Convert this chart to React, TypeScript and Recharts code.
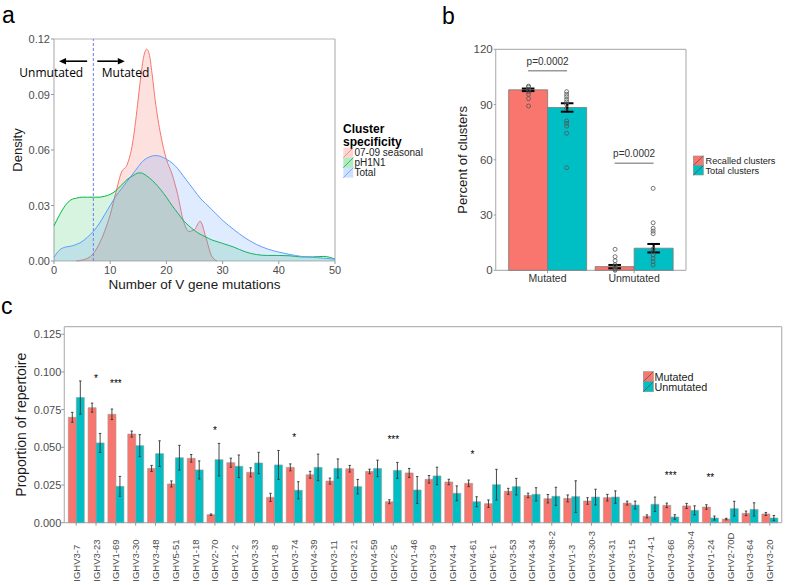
import React from "react";
import {
  ComposedChart,
  Area,
  Bar,
  Scatter,
  XAxis,
  YAxis,
  CartesianGrid,
  ReferenceLine,
  ReferenceDot,
  ErrorBar,
} from "recharts";

const RED = "#F8766D";
const TEAL = "#00BFC4";
const GREEN = "#00BA38";
const BLUE = "#619CFF";
const FRAME = "#b5b5b5";
const TICK_TEXT = "#4d4d4d";
const SANS = '"Liberation Sans", Arial, sans-serif';

// ---- panel a: density of V gene mutation counts ----
const mutationCounts = [
  0, 1, 2, 3, 4, 5, 6, 7, 8, 9, 10, 11, 12, 13, 14, 14.5, 15, 15.5, 16, 16.5, 17, 17.5, 18,
  19, 20, 21, 22, 23, 24, 25, 26, 27, 28, 29, 30, 32, 34, 36, 38, 40, 42, 44, 46, 48, 50,
];
const seasonalDensity = [
  null, null, null, null, 0, 0.0005, 0.0015, 0.004, 0.009, 0.016, 0.025, 0.037, 0.048, 0.052,
  0.064, 0.075, 0.088, 0.101, 0.111, 0.1145, 0.111, 0.1, 0.087, 0.068, 0.055, 0.047, 0.036,
  0.022, 0.016, 0.017, 0.0215, 0.013, 0.003, 0, null, null, null, null, null, null, null, null,
  null, null, null,
];
const ph1n1Density = [
  0.019, 0.025, 0.03, 0.033, 0.034, 0.0345, 0.0345, 0.0345, 0.0345, 0.035, 0.036, 0.038, 0.041,
  0.044, 0.046, 0.047, 0.0476, 0.0476, 0.047, 0.046, 0.0448, 0.0435, 0.042, 0.0385, 0.0345, 0.03,
  0.026, 0.022, 0.019, 0.0165, 0.0145, 0.013, 0.0115, 0.0105, 0.0095, 0.0075, 0.005, 0.0035,
  0.003, 0.003, 0.0028, 0.0022, 0.0022, 0.0025, 0.001,
];
const totalDensity = [
  0.002, 0.006, 0.0075, 0.008, 0.009, 0.0105, 0.013, 0.016, 0.02, 0.025, 0.03, 0.035, 0.039,
  0.043, 0.047, 0.049, 0.051, 0.053, 0.0545, 0.0555, 0.0563, 0.0568, 0.057, 0.0565, 0.055, 0.053,
  0.05, 0.046, 0.042, 0.038, 0.034, 0.031, 0.028, 0.025, 0.022, 0.017, 0.0125, 0.009, 0.0065,
  0.0048, 0.0035, 0.0025, 0.002, 0.0015, 0.001,
];
const mutationCutoff = 7;
const specificityLabels = ["07-09 seasonal", "pH1N1", "Total"];

// ---- panel b: percent of clusters ----
const groups = ["Mutated", "Unmutated"];
const recalledPct = [98, 2];
const recalledSem = [0.7, 0.9];
const totalPct = [88.4, 12];
const totalSem = [2.3, 2.3];
const recalledMutatedDonors = [100, 99.4, 98.3, 97, 95.6, 93.2, 89.2];
const totalMutatedDonors = [97, 95.6, 94.3, 92.8, 91.5, 90.1, 88, 81.1, 79.8, 78.3, 74.4, 55.7];
const recalledUnmutatedDonors = [11.4, 7.4, 5.2, 3, 2, 1, 0.5, 0];
const totalUnmutatedDonors = [44.5, 25.8, 22.8, 21.3, 19.9, 11.5, 10.1, 8.3, 6.5, 4.7, 2.9];
const pLabels = ["p=0.0002", "p=0.0002"];
const pBarHeights = [108.4, 58.1];

// ---- panel c: IGHV usage ----
const genes = [
  "IGHV3-7", "IGHV3-23", "IGHV1-69", "IGHV3-30", "IGHV3-48", "IGHV5-51", "IGHV1-18", "IGHV2-70",
  "IGHV1-2", "IGHV3-33", "IGHV1-8", "IGHV3-74", "IGHV4-39", "IGHV3-11", "IGHV3-21", "IGHV4-59",
  "IGHV2-5", "IGHV1-46", "IGHV3-9", "IGHV4-4", "IGHV4-61", "IGHV6-1", "IGHV3-53", "IGHV4-34",
  "IGHV4-38-2", "IGHV1-3", "IGHV3-30-3", "IGHV4-31", "IGHV3-15", "IGHV7-4-1", "IGHV3-66",
  "IGHV4-30-4", "IGHV1-24", "IGHV2-70D", "IGHV3-64", "IGHV3-20",
];
const mutatedProp = [
  0.0699, 0.0763, 0.0719, 0.0588, 0.036, 0.0257, 0.0427, 0.0053, 0.0398, 0.0334, 0.0168, 0.0367,
  0.0318, 0.0276, 0.0358, 0.034, 0.0139, 0.033, 0.0288, 0.027, 0.0261, 0.0126, 0.0208, 0.0181,
  0.0159, 0.0161, 0.0144, 0.0166, 0.013, 0.0042, 0.0115, 0.0111, 0.0104, 0.0024, 0.0062, 0.0058,
];
const mutatedSem = [
  0.0033, 0.003, 0.0035, 0.002, 0.002, 0.002, 0.0025, 0.0005, 0.003, 0.003, 0.0027, 0.0023,
  0.0023, 0.002, 0.0022, 0.0015, 0.0013, 0.003, 0.0025, 0.0018, 0.0022, 0.0025, 0.002, 0.0015,
  0.0028, 0.0023, 0.0022, 0.0022, 0.0013, 0.001, 0.0015, 0.0017, 0.0015, 0.0005, 0.0015, 0.001,
];
const unmutatedProp = [
  0.083, 0.0529, 0.0241, 0.0511, 0.0458, 0.0431, 0.035, 0.0418, 0.0374, 0.0396, 0.0383, 0.0215,
  0.0367, 0.036, 0.0239, 0.036, 0.0347, 0.0217, 0.031, 0.0195, 0.0139, 0.0252, 0.0239, 0.0188,
  0.0175, 0.0173, 0.017, 0.017, 0.0117, 0.0122, 0.0038, 0.0082, 0.0031, 0.0093, 0.0088, 0.0031,
];
const unmutatedSem = [
  0.011, 0.0063, 0.0066, 0.0073, 0.0085, 0.0082, 0.006, 0.0108, 0.0075, 0.0071, 0.0096, 0.0057,
  0.0088, 0.0063, 0.0048, 0.0055, 0.0053, 0.0089, 0.0058, 0.0049, 0.0033, 0.0102, 0.0055, 0.0044,
  0.006, 0.0105, 0.0052, 0.0041, 0.0026, 0.0048, 0.0015, 0.003, 0.0013, 0.0049, 0.0044, 0.0017,
];
const sigGenes = ["IGHV3-23", "IGHV1-69", "IGHV2-70", "IGHV3-74", "IGHV2-5", "IGHV4-61", "IGHV3-66", "IGHV1-24"];
const sigMarks = ["*", "***", "*", "*", "***", "*", "***", "**"];
const sigHeights = [0.097, 0.0936, 0.063, 0.058, 0.0564, 0.047, 0.033, 0.0316];

// chart rows
const densityRows = mutationCounts.map((m, i) => ({
  m,
  seasonal: seasonalDensity[i],
  ph1n1: ph1n1Density[i],
  total: totalDensity[i],
}));
const clusterRows = groups.map((group, i) => ({
  group,
  recalled: recalledPct[i],
  recalledErr: recalledSem[i],
  total: totalPct[i],
  totalErr: totalSem[i],
}));
const DODGE = 0.22;
const toPts = (vals: number[], pos: number) => vals.map((pct) => ({ pos, pct }));
const recalledPts = [
  ...toPts(recalledMutatedDonors, 1 - DODGE),
  ...toPts(recalledUnmutatedDonors, 2 - DODGE),
];
const totalPts = [...toPts(totalMutatedDonors, 1 + DODGE), ...toPts(totalUnmutatedDonors, 2 + DODGE)];
const geneRows = genes.map((gene, i) => ({
  gene,
  mutated: mutatedProp[i],
  mutatedErr: mutatedSem[i],
  unmutated: unmutatedProp[i],
  unmutatedErr: unmutatedSem[i],
}));

// grey panel border drawn as grid lines on the plot edges
const frameH = ({ offset }: any) => [offset.top, offset.top + offset.height];
const frameV = ({ offset }: any) => [offset.left, offset.left + offset.width];

// tick renderers with fixed font so sizes are predictable
const yTick = (fmt: (v: any) => string, size: number) => (p: any) => (
  <text x={p.x} y={p.y} textAnchor="end" dominantBaseline="central" fontFamily={SANS} fontSize={size} fill={TICK_TEXT}>
    {fmt(p.payload.value)}
  </text>
);
const xTick = (size: number, color: string) => (p: any) => (
  <text x={p.x} y={p.y} dy="0.74em" textAnchor="middle" fontFamily={SANS} fontSize={size} fill={color}>
    {p.payload.value}
  </text>
);

const GeneTick = (props: any) => {
  const { x, y, payload } = props;
  const ty = y + 56;
  return (
    <text
      x={x}
      y={ty}
      transform={`rotate(-90, ${x}, ${ty})`}
      textAnchor="start"
      dominantBaseline="central"
      fontFamily={SANS}
      fontSize={9.5}
      fill={TICK_TEXT}
    >
      {payload.value}
    </text>
  );
};

const arrowShape = (p: any) => {
  const { x1, y1, x2, y2 } = p;
  const dir = Math.sign(x2 - x1);
  const head = 7;
  return (
    <g>
      <line x1={x1} y1={y1} x2={x2 - dir * head} y2={y2} stroke="#000" strokeWidth={1.6} />
      <polygon
        points={`${x2},${y2} ${x2 - dir * head},${y2 - 3.2} ${x2 - dir * head},${y2 + 3.2}`}
        fill="#000"
      />
    </g>
  );
};

const noteText = (text: string, anchor: "start" | "end") => (p: any) => (
  <text
    x={p.cx}
    y={p.cy}
    textAnchor={anchor}
    fontFamily='"Open Sans", "Noto Sans", sans-serif'
    fontSize={12}
    fill="#000"
  >
    {text}
  </text>
);

const KeyBox = ({ x, y, w, h, fill, line, fillOpacity = 1, border }: any) => (
  <g>
    <rect x={x} y={y} width={w} height={h} fill={fill} fillOpacity={fillOpacity} stroke={border || "none"} strokeWidth={0.6} />
    <line x1={x} y1={y + h} x2={x + w} y2={y} stroke={line} strokeWidth={0.8} />
  </g>
);

function DensityPanel() {
  return (
    <ComposedChart width={345} height={300} data={densityRows} margin={{ top: 39, right: 10, bottom: 6, left: 0 }}>
      <CartesianGrid stroke={FRAME} strokeWidth={1.2} horizontalCoordinatesGenerator={frameH} verticalCoordinatesGenerator={frameV} />
      <XAxis
        dataKey="m"
        type="number"
        domain={[0, 50]}
        ticks={[0, 10, 20, 30, 40, 50]}
        height={33}
        axisLine={false}
        tickSize={3}
        tickMargin={2}
        tickLine={{ stroke: "#999" }}
        tick={xTick(11, TICK_TEXT)}
      />
      <YAxis
        domain={[0, 0.12]}
        ticks={[0, 0.03, 0.06, 0.09, 0.12]}
        width={54}
        axisLine={false}
        tickSize={3}
        tickMargin={1}
        tickLine={{ stroke: "#999" }}
        tick={yTick((v: number) => v.toFixed(2), 11)}
      />
      <Area dataKey="seasonal" type="monotone" stroke={RED} fill={RED} fillOpacity={0.22} strokeWidth={1} dot={false} activeDot={false} isAnimationActive={false} />
      <Area dataKey="ph1n1" type="monotone" stroke={GREEN} fill={GREEN} fillOpacity={0.16} strokeWidth={1} dot={false} activeDot={false} isAnimationActive={false} />
      <Area dataKey="total" type="monotone" stroke={BLUE} fill={BLUE} fillOpacity={0.2} strokeWidth={1} dot={false} activeDot={false} isAnimationActive={false} />
      <ReferenceLine x={mutationCutoff} stroke="#7777ee" strokeDasharray="3 2" strokeWidth={1} />
      <ReferenceLine segment={[{ x: 5.9, y: 0.108 }, { x: 0.9, y: 0.108 }]} shape={arrowShape} />
      <ReferenceLine segment={[{ x: 7.7, y: 0.108 }, { x: 12.6, y: 0.108 }]} shape={arrowShape} />
      <ReferenceDot x={5.2} y={0.0996} r={0} shape={noteText("Unmutated", "end")} />
      <ReferenceDot x={8.5} y={0.0996} r={0} shape={noteText("Mutated", "start")} />
    </ComposedChart>
  );
}

function ClusterPanel() {
  const dot = (p: any) => <circle cx={p.cx} cy={p.cy} r={2} fill="none" stroke="#555" strokeWidth={0.8} />;
  return (
    <ComposedChart width={300} height={300} data={clusterRows} margin={{ top: 49.3, right: 14, bottom: 0, left: 0 }} barGap={0} barCategoryGap={4.3}>
      <CartesianGrid stroke={FRAME} strokeWidth={1.2} horizontalCoordinatesGenerator={frameH} verticalCoordinatesGenerator={frameV} />
      <XAxis
        dataKey="group"
        height={29.7}
        padding={{ left: 8.65, right: 8.65 }}
        axisLine={false}
        tickSize={3}
        tickMargin={1}
        tickLine={{ stroke: "#999" }}
        tick={xTick(10.5, "#333")}
      />
      <XAxis xAxisId="pts" type="number" dataKey="pos" domain={[0.4, 2.6]} hide allowDataOverflow />
      <YAxis
        domain={[0, 120]}
        ticks={[0, 30, 60, 90, 120]}
        width={95.7}
        axisLine={false}
        tickSize={2}
        tickMargin={1}
        tickLine={{ stroke: "#999" }}
        tick={yTick((v: number) => String(v), 11.5)}
      />
      <Bar dataKey="recalled" fill={RED} stroke="#7a7a7a" strokeWidth={0.8} isAnimationActive={false}>
        <ErrorBar dataKey="recalledErr" width={6.3} stroke="#000" strokeWidth={2} isAnimationActive={false} />
      </Bar>
      <Bar dataKey="total" fill={TEAL} stroke="#7a7a7a" strokeWidth={0.8} isAnimationActive={false}>
        <ErrorBar dataKey="totalErr" width={6.3} stroke="#000" strokeWidth={2} isAnimationActive={false} />
      </Bar>
      <Scatter xAxisId="pts" data={recalledPts} dataKey="pct" shape={dot} isAnimationActive={false} />
      <Scatter xAxisId="pts" data={totalPts} dataKey="pct" shape={dot} isAnimationActive={false} />
      {groups.map((g, i) => (
        <ReferenceLine
          key={`pl-${g}`}
          xAxisId="pts"
          segment={[{ x: i + 1 - 0.225, y: pBarHeights[i] }, { x: i + 1 + 0.225, y: pBarHeights[i] }]}
          stroke="#999"
          strokeWidth={1.5}
        />
      ))}
      {groups.map((g, i) => (
        <ReferenceDot
          key={`pt-${g}`}
          xAxisId="pts"
          x={i + 1}
          y={pBarHeights[i]}
          r={0}
          shape={(p: any) => (
            <text x={p.cx} y={p.cy - 6} textAnchor="middle" fontFamily={SANS} fontSize={10} fill="#333">
              {pLabels[i]}
            </text>
          )}
        />
      ))}
    </ComposedChart>
  );
}

function GenePanel() {
  return (
    <ComposedChart width={787} height={285} data={geneRows} margin={{ top: 26.7, right: 5.3, bottom: 0, left: 0 }} barGap={0} barCategoryGap={2}>
      <CartesianGrid stroke={FRAME} strokeWidth={1.2} horizontalCoordinatesGenerator={frameH} verticalCoordinatesGenerator={frameV} />
      <XAxis
        dataKey="gene"
        interval={0}
        height={62.3}
        padding={{ left: 2, right: 2 }}
        axisLine={false}
        tickSize={3}
        tickMargin={0}
        tickLine={{ stroke: "#999" }}
        tick={(p: any) => <GeneTick {...p} />}
      />
      <YAxis
        domain={[0, 0.13]}
        ticks={[0, 0.025, 0.05, 0.075, 0.1, 0.125]}
        width={64.3}
        axisLine={false}
        tickSize={3}
        tickMargin={0}
        tickLine={{ stroke: "#999" }}
        tick={yTick((v: number) => v.toFixed(3), 11)}
      />
      <Bar dataKey="mutated" fill={RED} stroke="#999" strokeWidth={0.6} isAnimationActive={false}>
        <ErrorBar dataKey="mutatedErr" width={1.2} stroke="#333" strokeWidth={0.9} isAnimationActive={false} />
      </Bar>
      <Bar dataKey="unmutated" fill={TEAL} stroke="#999" strokeWidth={0.6} isAnimationActive={false}>
        <ErrorBar dataKey="unmutatedErr" width={1.2} stroke="#333" strokeWidth={0.9} isAnimationActive={false} />
      </Bar>
      {sigGenes.map((g, i) => (
        <ReferenceDot
          key={g}
          x={g}
          y={sigHeights[i]}
          r={0}
          shape={(p: any) => (
            <text x={p.cx} y={p.cy + 5.8} textAnchor="middle" fontFamily={SANS} fontSize={10} fill="#000">
              {sigMarks[i]}
            </text>
          )}
        />
      ))}
    </ComposedChart>
  );
}

export default function App() {
  return (
    <div
      style={{
        position: "absolute",
        left: 0,
        top: 0,
        width: 787,
        height: 585,
        background: "#fff",
        overflow: "hidden",
        fontFamily: SANS,
      }}
    >
      <div style={{ position: "absolute", left: 0, top: 0 }}>
        <DensityPanel />
      </div>
      <div style={{ position: "absolute", left: 400, top: 0 }}>
        <ClusterPanel />
      </div>
      <div style={{ position: "absolute", left: 0, top: 300 }}>
        <GenePanel />
      </div>
      <svg width={787} height={585} style={{ position: "absolute", left: 0, top: 0, pointerEvents: "none" }} fontFamily={SANS}>
        <text x={2} y={23} fontSize={23} fill="#000">a</text>
        <text x={442} y={24} fontSize={23} fill="#000">b</text>
        <text x={1} y={314} fontSize={23} fill="#000">c</text>

        {/* axis titles */}
        <text x={194.5} y={288.5} textAnchor="middle" fontSize={13.5} fill="#1a1a1a">Number of V gene mutations</text>
        <text x={17.5} y={150} transform="rotate(-90, 17.5, 150)" textAnchor="middle" dominantBaseline="central" fontSize={13} fill="#1a1a1a">Density</text>
        <text x={462.5} y={159.8} transform="rotate(-90, 462.5, 159.8)" textAnchor="middle" dominantBaseline="central" fontSize={13} fill="#1a1a1a">Percent of clusters</text>
        <text x={21} y={424.7} transform="rotate(-90, 21, 424.7)" textAnchor="middle" dominantBaseline="central" fontSize={14} fill="#1a1a1a">Proportion of repertoire</text>

        {/* legend a */}
        <text x={343} y={133} fontSize={12} fontWeight="bold" fill="#000">Cluster</text>
        <text x={343} y={145.5} fontSize={12} fontWeight="bold" fill="#000">specificity</text>
        {specificityLabels.map((label, i) => (
          <g key={label}>
            <KeyBox x={343.3} y={147.7 + i * 10} w={10} h={10} fill={[RED, GREEN, BLUE][i]} fillOpacity={0.3} line={[RED, GREEN, BLUE][i]} />
            <text x={354.5} y={156.3 + i * 10} fontSize={10} fill="#222">{label}</text>
          </g>
        ))}

        {/* legend b */}
        {["Recalled clusters", "Total clusters"].map((label, i) => (
          <g key={label}>
            <KeyBox x={693.3} y={156 + i * 9.5} w={10} h={9.5} fill={[RED, TEAL][i]} line="#555" border="#8c8c8c" />
            <text x={705.5} y={164 + i * 9.5} fontSize={9.2} fill="#222">{label}</text>
          </g>
        ))}

        {/* legend c */}
        {["Mutated", "Unmutated"].map((label, i) => (
          <g key={label}>
            <KeyBox x={643.3} y={371.7 + i * 10} w={10} h={10} fill={[RED, TEAL][i]} line="#555" border="#8c8c8c" />
            <text x={654.5} y={380.5 + i * 10.5} fontSize={10.8} fill="#222">{label}</text>
          </g>
        ))}
      </svg>
    </div>
  );
}
